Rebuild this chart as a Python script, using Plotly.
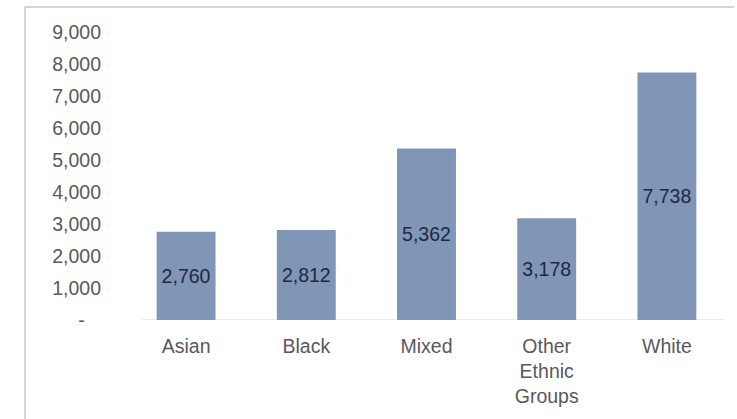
import plotly.graph_objects as go

# Population counts by ethnic group
categories = ["Asian", "Black", "Mixed", "Other<br>Ethnic<br>Groups", "White"]
values = [2760, 2812, 5362, 3178, 7738]

# Value axis ticks (zero shown as an accounting dash)
y_tickvals = [0, 1000, 2000, 3000, 4000, 5000, 6000, 7000, 8000, 9000]
y_ticktext = ["-\u00a0\u00a0\u00a0", "1,000", "2,000", "3,000", "4,000",
              "5,000", "6,000", "7,000", "8,000", "9,000"]

W, H = 737, 419
ML, MR, MT, MB = 126, 10, 32, 99
PW, PH = W - ML - MR, H - MT - MB


def px(x):
    return (x - ML) / PW


def py(y):
    return (H - MB - y) / PH


FONT = "Liberation Sans, Arial, sans-serif"

fig = go.Figure(
    go.Bar(
        x=categories,
        y=values,
        marker=dict(color="#7f96b7", line=dict(width=0)),
        text=[f"{v:,}" for v in values],
        textposition="inside",
        insidetextanchor="middle",
        constraintext="none",
        textangle=0,
        textfont=dict(family=FONT, size=19.5, color="#1c2842"),
        hoverinfo="skip",
    )
)

fig.update_layout(
    width=W,
    height=H,
    margin=dict(l=ML, r=MR, t=MT, b=MB),
    paper_bgcolor="white",
    plot_bgcolor="white",
    bargap=0.51,
    showlegend=False,
    font=dict(family=FONT, color="#595959", size=19.5),
    shapes=[
        # outer chart frame (left and top edges)
        dict(type="line", xref="paper", yref="paper",
             x0=px(25), x1=px(25), y0=py(7), y1=py(419),
             line=dict(color="#d6d6d6", width=2)),
        dict(type="line", xref="paper", yref="paper",
             x0=px(25), x1=px(734), y0=py(7), y1=py(7),
             line=dict(color="#d6d6d6", width=2)),
        # category axis baseline
        dict(type="line", xref="paper", yref="y",
             x0=px(142), x1=px(725), y0=0, y1=0,
             line=dict(color="#d9d9d9", width=1), layer="below"),
    ],
)

fig.update_xaxes(
    showgrid=False,
    showline=False,
    ticks="",
    tickfont=dict(family=FONT, size=19.5, color="#595959"),
    ticklabelstandoff=12,
)

fig.update_yaxes(
    range=[0, 9000],
    tickvals=y_tickvals,
    ticktext=y_ticktext,
    showgrid=False,
    zeroline=False,
    showline=False,
    ticks="",
    tickfont=dict(family=FONT, size=19.5, color="#595959"),
    ticklabelstandoff=24,
)

fig.write_html("out.html")
